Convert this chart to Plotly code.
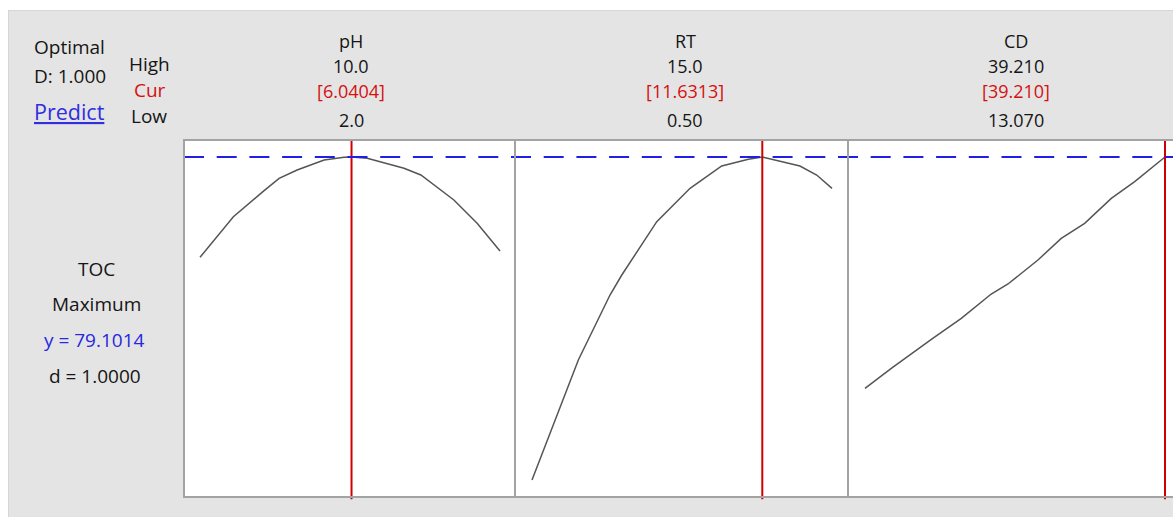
import plotly.graph_objects as go

OFF = 0
W, H = 1173 - OFF, 517 - OFF

# ---------------- data ----------------
factors = ["pH", "RT", "CD"]
high_labels = ["10.0", "15.0", "39.210"]
cur_labels = ["[6.0404]", "[11.6313]", "[39.210]"]
low_labels = ["2.0", "0.50", "13.070"]
lows = [2.0, 0.5, 13.07]
highs = [10.0, 15.0, 39.21]
current = [6.0404, 11.6313, 39.21]

ph_x = [2.0, 2.89, 3.71, 4.11, 4.59, 5.31, 5.84, 6.04, 6.46, 7.44, 7.89, 8.77, 9.39, 10.0]
ph_y = [67.06, 71.94, 75.06, 76.54, 77.54, 78.74, 79.08, 79.10, 78.94, 77.74, 76.94, 73.94, 71.14, 67.82]

rt_x = [0.5, 2.09, 2.74, 4.27, 4.84, 6.53, 7.01, 8.14, 9.67, 10.96, 11.63, 13.45, 14.26, 15.0]
rt_y = [40.34, 50.74, 54.74, 62.54, 64.94, 71.34, 72.54, 75.34, 78.02, 78.82, 79.10, 78.02, 76.94, 75.34]

cd_x = [13.07, 15.36, 18.85, 21.46, 24.07, 25.53, 28.14, 30.17, 32.21, 34.53, 36.57, 39.21]
cd_y = [51.34, 53.74, 57.22, 59.74, 62.66, 63.86, 66.74, 69.34, 71.14, 74.14, 76.14, 79.10]

y_opt = 79.1014
response_lines = ["TOC", "Maximum", "y = 79.1014", "d = 1.0000"]
optimal_lines = ["Optimal", "D: 1.000", "Predict"]

curves_x = [ph_x, rt_x, cd_x]
curves_y = [ph_y, rt_y, cd_y]

# ---------------- layout helpers ----------------
def px(x):
    return (x - OFF) / W

def py(y):
    return 1 - (y - OFF) / H

FONT = "Open Sans"
FS = 19
FS_HEAD = 18
BLACK = "#151515"
RED = "#d41010"
BLUE = "#2828e0"
FRAME = "#a3a3a3"

panel_px = [(184, 515), (515, 848), (848, 1181)]
pads = [(16, 15), (17, 16), (17, 16)]
top_px, bot_px = 140, 497
y_range = [38.30, 81.14]
header_cx = [351, 685, 1016]

fig = go.Figure()

for i in range(3):
    xa = "x" if i == 0 else f"x{i+1}"
    ya = "y" if i == 0 else f"y{i+1}"
    fig.add_trace(go.Scatter(
        x=curves_x[i], y=curves_y[i], mode="lines",
        line=dict(color="#555555", width=1.5),
        xaxis=xa, yaxis=ya, showlegend=False, hoverinfo="skip"))

layout = dict(
    width=W, height=H,
    margin=dict(l=0, r=0, t=0, b=0, pad=0),
    paper_bgcolor="#e4e4e4",
    plot_bgcolor="white",
    showlegend=False,
    font=dict(family=FONT, size=FS, color=BLACK),
)

for i in range(3):
    l, r = panel_px[i]
    padl, padr = pads[i]
    ppu = 300 / (highs[i] - lows[i])
    xr = [lows[i] - padl / ppu, highs[i] + padr / ppu]
    r_vis = min(r, 1173)
    if r_vis < r:
        xr[1] = xr[1] - (r - r_vis) / ppu
    key = "xaxis" if i == 0 else f"xaxis{i+1}"
    ykey = "yaxis" if i == 0 else f"yaxis{i+1}"
    layout[key] = dict(domain=[px(l), px(r_vis)], range=xr, showgrid=False, zeroline=False,
                       showticklabels=False, ticks="", showline=False,
                       anchor="y" if i == 0 else f"y{i+1}")
    layout[ykey] = dict(domain=[py(bot_px), py(top_px)], range=y_range, showgrid=False,
                        zeroline=False, showticklabels=False, ticks="", showline=False,
                        anchor="x" if i == 0 else f"x{i+1}")

fig.update_layout(**layout)

shapes = []
# white outer strips and light border of the panel
shapes.append(dict(type="rect", xref="paper", yref="paper", x0=0, x1=1, y0=py(10), y1=1,
                   fillcolor="white", line=dict(width=0), layer="above"))
shapes.append(dict(type="rect", xref="paper", yref="paper", x0=0, x1=px(8), y0=0, y1=1,
                   fillcolor="white", line=dict(width=0), layer="above"))
shapes.append(dict(type="line", xref="paper", yref="paper", x0=px(8), x1=1, y0=py(10.5), y1=py(10.5),
                   line=dict(color="#d6d6d6", width=1)))
shapes.append(dict(type="line", xref="paper", yref="paper", x0=px(8.5), x1=px(8.5), y0=0, y1=py(10.5),
                   line=dict(color="#d6d6d6", width=1)))

# red current-setting lines
for i in range(3):
    xa = "x" if i == 0 else f"x{i+1}"
    ya = "y" if i == 0 else f"y{i+1}"
    shapes.append(dict(type="line", xref=xa, yref=f"{ya} domain", x0=current[i], x1=current[i],
                       y0=-0.006, y1=1, line=dict(color="#d00000", width=2), layer="above"))

# blue dashed optimum line
shapes.append(dict(type="line", xref="paper", yref="y", x0=px(184), x1=1, y0=y_opt, y1=y_opt,
                   line=dict(color="#1f1fe6", width=2, dash="20px,12.7px"), layer="above"))

# frame lines
shapes.append(dict(type="line", xref="paper", yref="paper", x0=px(183), x1=1, y0=py(140), y1=py(140),
                   line=dict(color=FRAME, width=2), layer="above"))
shapes.append(dict(type="line", xref="paper", yref="paper", x0=px(183), x1=1, y0=py(497), y1=py(497),
                   line=dict(color=FRAME, width=2), layer="above"))
for xv in [184, 515, 848]:
    shapes.append(dict(type="line", xref="paper", yref="paper", x0=px(xv), x1=px(xv),
                       y0=py(497), y1=py(140), line=dict(color=FRAME, width=2), layer="above"))

fig.update_layout(shapes=shapes)

ann = []

def add_text(text, x, y, color=BLACK, xanchor="center", size=FS):
    ann.append(dict(text=text, x=px(x), y=py(y), xref="paper", yref="paper",
                    xanchor=xanchor, yanchor="middle", showarrow=False,
                    font=dict(family=FONT, size=size, color=color)))

# optimal block
add_text(optimal_lines[0], 32, 47, xanchor="left")
add_text(optimal_lines[1], 32, 76, xanchor="left")
add_text('<span style="text-decoration:underline">' + optimal_lines[2] + '</span>', 32, 112,
         color="#2f2fe0", xanchor="left", size=21.5)

# row labels
add_text("High", 149, 64)
add_text("Cur", 150, 90, color=RED)
add_text("Low", 148.5, 116)

# factor headers
for i in range(3):
    cx = header_cx[i]
    add_text(factors[i], cx, 41, size=FS_HEAD)
    add_text(high_labels[i], cx, 66, size=FS_HEAD)
    add_text(cur_labels[i], cx, 91, color=RED, size=FS_HEAD)
    add_text(low_labels[i], cx, 120, size=FS_HEAD)

# response block
add_text(response_lines[0], 96.5, 269)
add_text(response_lines[1], 96, 304)
add_text(response_lines[2], 94.5, 340, color=BLUE)
add_text(response_lines[3], 95, 376)

fig.update_layout(annotations=ann)

fig.write_html(
    "out.html",
    config={"displayModeBar": False},
    post_script="document.body.style.margin='0';document.documentElement.style.overflow='hidden';document.body.style.overflow='hidden';",
)
